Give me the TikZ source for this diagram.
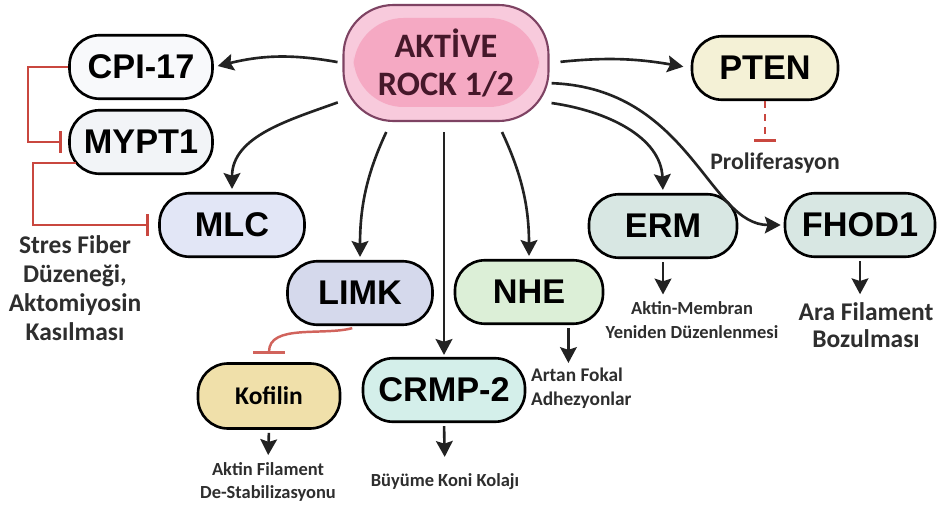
\documentclass[tikz,border=0pt]{standalone}
\usepackage{fontspec}
\setmainfont{Liberation Sans}
\newfontfamily\calfont{Carlito}
\usepackage{xcolor}
\definecolor{rockFill}{HTML}{F8CADC}
\definecolor{rockIn}{HTML}{F5A9C3}
\definecolor{rockLine}{HTML}{7E4363}
\definecolor{rockText}{HTML}{45182A}
\definecolor{inhRed}{HTML}{C9473F}
\definecolor{arrGray}{HTML}{222222}
\definecolor{noteGray}{HTML}{2E2E2E}
\definecolor{grpCpi}{HTML}{F8F9FB}
\definecolor{grpMypt}{HTML}{F2F4F7}
\definecolor{grpMlc}{HTML}{E2E6F6}
\definecolor{grpLimk}{HTML}{D5D9EC}
\definecolor{grpNhe}{HTML}{DCEFD7}
\definecolor{grpErm}{HTML}{D8E7E3}
\definecolor{grpPten}{HTML}{F4F1D6}
\definecolor{grpKof}{HTML}{F0E0AA}
\definecolor{grpCrmp}{HTML}{D4EFEA}
\usetikzlibrary{arrows.meta, positioning, calc}

\begin{document}
\begin{tikzpicture}[x=0.2mm, y=-0.2mm,
  box/.style={draw, line width=1.5pt, rounded corners=6mm, minimum width=29mm,
    minimum height=12.7mm, inner sep=0pt, align=center,
    font=\fontsize{19.5}{22}\selectfont\bfseries},
  arr/.style={-{Stealth[length=9pt, width=9.5pt, inset=1.5pt]}, line width=1.5pt,
    color=arrGray},
  inh/.style={-{Bar[width=12pt, line width=1.8pt]}, line width=1.4pt, color=inhRed},
  note/.style={align=center, text=noteGray, inner sep=1pt,
    font=\calfont\bfseries\fontsize{10.5}{13.5}\selectfont},
  bignote/.style={note, font=\calfont\bfseries\fontsize{14.5}{15.5}\selectfont}
]
  \useasboundingbox[fill=white] (0,0) rectangle (941,509);

  % ROCK block
  \node[box, draw=rockLine, line width=1.2pt, fill=rockFill, text=rockText,
    minimum width=41mm, minimum height=23.2mm, rounded corners=10mm,
    font=\calfont\bfseries\fontsize{19.5}{22}\selectfont,
    path picture={\fill[rockIn]
      ([shift={(-18.5mm,-8.8mm)}]path picture bounding box.center) rectangle
      ([shift={(18.6mm,9mm)}]path picture bounding box.center);}]
    (rock) at (446,63) {AKTİVE\\ROCK 1/2};

  % Targets
  \node[box, fill=grpCpi, minimum width=28.6mm] (cpi) at (141,67) {CPI-17};
  \node[box, fill=grpMypt, minimum width=28.6mm] (mypt) at (141,142) {MYPT1};
  \node[box, fill=grpMlc] (mlc) at (232,225) {MLC};
  \node[box, fill=grpLimk] (limk) at (360,293) {LIMK};
  \node[box, fill=grpNhe, minimum width=29.6mm] (nhe) at (529,292) {NHE};
  \node[box, fill=grpErm, minimum width=29.6mm] (erm) at (663,226) {ERM};
  \node[box, fill=grpErm, minimum width=30mm] (fhod) at (860,225) {FHOD1};
  \node[box, fill=grpPten, minimum width=29.2mm] (pten) at (765,68) {PTEN};
  \node[box, fill=grpKof, minimum width=28.4mm, minimum height=13mm,
    font=\calfont\bfseries\fontsize{14.5}{16}\selectfont] (kof) at (269,396) {Kofilin};
  \node[box, fill=grpCrmp, minimum width=32.4mm] (crmp) at (444,390) {CRMP-2};

  % Effects
  \node[bignote, font=\calfont\bfseries\fontsize{14.5}{16.5}\selectfont] (stres)
    at (75,288) {Stres Fiber\\Düzeneği,\\Aktomiyosin\\Kasılması};
  \node[note, font=\calfont\bfseries\fontsize{13.5}{15}\selectfont] (prolif)
    at (775,163) {Proliferasyon};
  \node[note] (aktmem) at (692,320) {Aktin-Membran\\Yeniden Düzenlenmesi};
  \node[bignote] (arafil) at (866,325) {Ara Filament\\Bozulması};
  \node[note, align=left, anchor=north west,
    font=\calfont\bfseries\fontsize{11}{13.5}\selectfont] (artan)
    at (529,366) {Artan Fokal\\Adhezyonlar};
  \node[note] (buyume) at (445,482) {Büyüme Koni Kolajı};
  \node[note] (aktfil) at (268,482) {Aktin Filament\\De-Stabilizasyonu};

  % Activation arrows
  \draw[arr, shorten <=1mm, shorten >=0.8mm] (rock.west) to[bend right=12] (cpi.east);
  \draw[arr, shorten <=1mm, shorten >=0.6mm] (rock.200) to[out=200, in=90] (mlc.north);
  \draw[arr, shorten <=2.2mm, shorten >=0.6mm] (rock.227) to[out=245, in=90] (limk.north);
  \draw[arr, shorten <=2mm, shorten >=0.4mm] (rock.south -| crmp.north) -- (crmp.north);
  \draw[arr, shorten <=2.2mm, shorten >=0.6mm] (rock.311) to[out=-65, in=90] (nhe.north);
  \draw[arr, shorten <=0.4mm, shorten >=0.6mm] (rock.339) to[out=-8, in=92] (erm.north);
  \draw[arr, shorten <=0.4mm, shorten >=0.6mm]
    (rock.349) .. controls +(140,5) and +(-75,0) .. (fhod.west);
  \draw[arr, shorten <=2.2mm, shorten >=1.5mm] (rock.east) to[bend left=8] (pten.west);

  % Downstream arrows
  \draw[arr, shorten <=0.6mm, shorten >=1mm] (kof.south) -- (aktfil.north);
  \draw[arr, shorten <=0.6mm, shorten >=3mm] (crmp.south) -- (buyume.north);
  \draw[arr, shorten <=0.6mm, shorten >=0.6mm] (nhe.320) -- (nhe.320 |- artan.north);
  \draw[arr, shorten <=0.6mm, shorten >=1mm] (erm.south) -- (erm.south |- aktmem.north);
  \draw[arr, shorten <=0.6mm, shorten >=1.2mm] (fhod.south) -- (fhod.south |- arafil.north);

  % Inhibitions
  \draw[inh, shorten >=1.2mm] (cpi.west) -- ++(-40,0) |- (mypt.west);
  \draw[inh, shorten <=-1.5mm, shorten >=1.8mm] (mypt.196) -- ++(-35,0) |- (mlc.west);
  \draw[inh, dashed, dash pattern=on 4pt off 3.5pt, shorten >=1.8mm]
    (pten.south) -- (pten.south |- prolif.north);
  \draw[inh, -{Bar[width=18pt, line width=1.8pt]}, color=inhRed!85,
    shorten <=1.6mm, shorten >=1.6mm] (limk.south) to[out=195, in=90] (kof.north);
\end{tikzpicture}
\end{document}
